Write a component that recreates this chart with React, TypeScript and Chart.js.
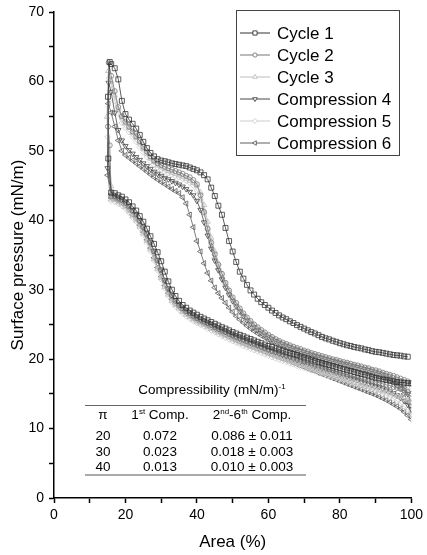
import React, { useEffect, useRef } from 'react';
import { Chart, registerables } from 'chart.js';
import { drawPoint } from 'chart.js/helpers';

Chart.register(...registerables);

const FONT = '"Liberation Sans", Arial, Helvetica, sans-serif';

// Area grid (%), compression direction: 100 -> 16
const areaGrid = [
  100, 99, 98, 97, 96, 95, 94, 93, 92, 91,
  90, 89, 88, 87, 86, 85, 84, 83, 82, 81,
  80, 79, 78, 77, 76, 75, 74, 73, 72, 71,
  70, 69, 68, 67, 66, 65, 64, 63, 62, 61,
  60, 59, 58, 57, 56, 55, 54, 53, 52, 51,
  50, 49, 48, 47, 46, 45, 44, 43, 42, 41,
  40, 39, 38, 37, 36, 35, 34, 33, 32, 31,
  30, 29, 28, 27, 26, 25, 24, 23, 22, 21,
  20, 19, 18, 17, 16,
];

// Compression branches (mN/m) along areaGrid (100 -> 16)
const cycle1Comp = [
  null, 20.35, 20.4, 20.5, 20.55, 20.6, 20.7, 20.8, 20.9, 21.0,
  21.05, 21.15, 21.3, 21.4, 21.55, 21.65, 21.75, 21.9, 22.0, 22.15,
  22.3, 22.5, 22.65, 22.85, 23.0, 23.2, 23.45, 23.7, 23.9, 24.15,
  24.4, 24.65, 24.9, 25.2, 25.45, 25.75, 26.0, 26.3, 26.65, 27.0,
  27.4, 27.8, 28.2, 28.7, 29.3, 29.9, 30.7, 31.6, 32.6, 34.0,
  35.5, 37.0, 38.9, 40.8, 42.1, 43.5, 44.7, 45.9, 46.5, 46.9,
  47.2, 47.4, 47.6, 47.8, 47.9, 48.0, 48.1, 48.2, 48.35, 48.5,
  48.6, 48.8, 49.2, 49.7, 50.4, 51.3, 52.3, 53.2, 53.9, 54.5,
  55.3, 57.2, 60.3, 61.9, 62.5,
];
const cycle2Comp = [
  16.5, 16.8, 17.0, 17.2, 17.4, 17.6, 17.75, 17.9, 18.05, 18.25,
  18.4, 18.5, 18.7, 18.8, 18.95, 19.1, 19.2, 19.35, 19.5, 19.6,
  19.75, 19.9, 20.0, 20.15, 20.3, 20.45, 20.6, 20.75, 20.9, 21.1,
  21.25, 21.45, 21.6, 21.8, 22.0, 22.2, 22.4, 22.65, 22.9, 23.2,
  23.5, 23.85, 24.2, 24.6, 25.0, 25.5, 26.0, 26.6, 27.3, 28.1,
  28.9, 29.9, 31.0, 32.3, 33.6, 35.1, 36.8, 38.8, 41.2, 43.6,
  45.2, 45.8, 46.2, 46.4, 46.7, 46.9, 47.1, 47.3, 47.5, 47.7,
  47.95, 48.2, 48.6, 49.2, 49.9, 50.6, 51.4, 52.1, 52.8, 53.5,
  54.2, 55.0, 56.3, 58.6, 60.8,
];
const cycle3Comp = [
  15.0, 15.9, 16.4, 16.8, 17.05, 17.3, 17.5, 17.65, 17.85, 18.05,
  18.2, 18.35, 18.5, 18.6, 18.75, 18.9, 19.0, 19.15, 19.3, 19.4,
  19.55, 19.7, 19.8, 19.95, 20.1, 20.25, 20.4, 20.55, 20.7, 20.9,
  21.05, 21.25, 21.4, 21.6, 21.8, 22.0, 22.2, 22.45, 22.7, 23.0,
  23.3, 23.65, 24.0, 24.4, 24.8, 25.3, 25.8, 26.4, 27.1, 27.9,
  28.7, 29.8, 30.9, 32.3, 33.8, 35.5, 37.5, 39.8, 42.2, 44.0,
  45.0, 45.4, 45.7, 46.0, 46.3, 46.5, 46.7, 46.9, 47.1, 47.4,
  47.65, 47.9, 48.4, 48.9, 49.6, 50.3, 51.1, 51.9, 52.6, 53.3,
  54.0, 54.8, 56.0, 58.0, 60.0,
];
const comp4Comp = [
  13.8, 15.0, 15.8, 16.4, 16.75, 17.05, 17.3, 17.5, 17.7, 17.9,
  18.05, 18.2, 18.4, 18.5, 18.65, 18.8, 18.9, 19.05, 19.2, 19.3,
  19.45, 19.6, 19.7, 19.85, 20.0, 20.15, 20.3, 20.45, 20.6, 20.8,
  20.95, 21.15, 21.3, 21.5, 21.7, 21.9, 22.1, 22.35, 22.6, 22.85,
  23.15, 23.45, 23.8, 24.2, 24.6, 25.1, 25.6, 26.2, 26.9, 27.6,
  28.4, 29.3, 30.3, 31.5, 32.8, 34.2, 35.9, 37.8, 39.7, 41.5,
  42.8, 43.6, 44.1, 44.5, 44.85, 45.15, 45.4, 45.65, 45.9, 46.1,
  46.4, 46.7, 47.0, 47.4, 47.8, 48.2, 48.7, 49.1, 49.6, 50.1,
  50.7, 51.5, 53.0, 55.5, 58.5,
];
const comp5Comp = [
  12.8, 14.6, 15.5, 16.1, 16.5, 16.85, 17.1, 17.35, 17.55, 17.75,
  17.9, 18.05, 18.25, 18.35, 18.5, 18.65, 18.8, 18.95, 19.1, 19.2,
  19.35, 19.5, 19.6, 19.75, 19.9, 20.05, 20.2, 20.35, 20.5, 20.7,
  20.85, 21.05, 21.2, 21.4, 21.6, 21.8, 22.0, 22.25, 22.5, 22.8,
  23.1, 23.45, 23.8, 24.2, 24.6, 25.0, 25.5, 26.1, 26.8, 27.5,
  28.3, 29.3, 30.4, 31.7, 33.0, 34.6, 36.3, 38.6, 41.0, 43.0,
  44.3, 45.0, 45.4, 45.7, 46.0, 46.2, 46.4, 46.6, 46.8, 47.0,
  47.3, 47.6, 48.0, 48.5, 49.1, 49.8, 50.5, 51.3, 52.0, 52.7,
  53.3, 54.0, 55.3, 57.2, 59.5,
];
const comp6Comp = [
  12.0, 13.8, 15.0, 15.7, 16.2, 16.6, 16.9, 17.15, 17.35, 17.55,
  17.7, 17.85, 18.05, 18.2, 18.35, 18.5, 18.6, 18.75, 18.9, 19.05,
  19.15, 19.3, 19.45, 19.6, 19.7, 19.85, 20.0, 20.15, 20.3, 20.5,
  20.65, 20.8, 21.0, 21.2, 21.4, 21.6, 21.8, 22.0, 22.25, 22.5,
  22.8, 23.1, 23.4, 23.7, 24.05, 24.4, 24.8, 25.25, 25.7, 26.2,
  26.8, 27.4, 28.1, 28.8, 29.5, 30.3, 31.3, 32.4, 33.8, 35.5,
  37.0, 39.0, 40.8, 42.4, 43.3, 43.9, 44.2, 44.5, 44.85, 45.2,
  45.5, 45.85, 46.2, 46.6, 47.0, 47.4, 47.8, 48.2, 48.6, 49.0,
  49.4, 50.0, 51.5, 53.5, 55.5,
];

// Collapse: near-vertical drop at minimum area
const cycle1DropX = [15.6, 15.1, 15.2];
const cycle1DropY = [62.8, 57.8, 48.9];
const cycle2DropX = [15.3, 15.1, 15.6];
const cycle2DropY = [62.7, 53.5, 50.8];
const cycle3DropX = [15.2, 14.8, 16.0];
const cycle3DropY = [61.5, 54.9, 44.9];
const comp4DropX = [15.3, 15.0];
const comp4DropY = [59.8, 47.5];
const comp5DropX = [15.4, 15.0];
const comp5DropY = [60.5, 52.0];
const comp6DropX = [15.2, 15.0];
const comp6DropY = [56.8, 46.5];

// Expansion branches (mN/m) along areaGrid reversed (16 -> 100)
const cycle1Exp = [
  44.0, 43.9, 43.6, 43.4, 43.0, 42.6, 42.0, 41.4, 40.6, 39.8,
  38.8, 37.7, 36.6, 35.4, 34.1, 32.6, 31.2, 30.0, 29.1, 28.4,
  27.8, 27.4, 27.0, 26.7, 26.4, 26.1, 25.85, 25.6, 25.35, 25.1,
  24.85, 24.6, 24.4, 24.15, 23.9, 23.7, 23.5, 23.3, 23.1, 22.9,
  22.7, 22.5, 22.3, 22.1, 21.9, 21.75, 21.55, 21.4, 21.25, 21.05,
  20.9, 20.75, 20.6, 20.4, 20.25, 20.1, 19.95, 19.8, 19.6, 19.45,
  19.3, 19.15, 19.0, 18.85, 18.7, 18.55, 18.4, 18.3, 18.15, 18.0,
  17.85, 17.75, 17.6, 17.45, 17.3, 17.2, 17.1, 17.0, 16.9, 16.8,
  16.7, 16.65, 16.6, 16.55, 16.5,
];
const cycle2Exp = [
  43.5, 43.4, 43.1, 42.9, 42.5, 42.0, 41.4, 40.8, 39.9, 39.0,
  38.0, 36.8, 35.5, 34.2, 32.8, 31.3, 30.1, 29.1, 28.4, 27.8,
  27.3, 26.9, 26.6, 26.2, 25.9, 25.65, 25.4, 25.15, 24.9, 24.6,
  24.35, 24.1, 23.9, 23.65, 23.4, 23.2, 23.0, 22.8, 22.6, 22.4,
  22.2, 22.0, 21.8, 21.6, 21.4, 21.2, 21.05, 20.9, 20.7, 20.55,
  20.4, 20.2, 20.05, 19.9, 19.7, 19.55, 19.4, 19.2, 19.05, 18.9,
  18.7, 18.55, 18.4, 18.2, 18.05, 17.9, 17.8, 17.65, 17.5, 17.4,
  17.25, 17.1, 17.0, 16.85, 16.7, 16.6, 16.45, 16.3, 16.2, 16.0,
  15.85, 15.7, 15.5, 15.25, 15.0,
];
const cycle3Exp = [
  43.0, 42.9, 42.6, 42.3, 41.9, 41.3, 40.6, 40.0, 39.1, 38.1,
  37.0, 35.8, 34.4, 33.0, 31.7, 30.4, 29.3, 28.4, 27.8, 27.3,
  26.8, 26.4, 26.05, 25.7, 25.4, 25.15, 24.9, 24.6, 24.35, 24.1,
  23.8, 23.55, 23.35, 23.1, 22.85, 22.6, 22.4, 22.2, 22.0, 21.8,
  21.6, 21.4, 21.2, 21.0, 20.8, 20.6, 20.45, 20.3, 20.1, 19.95,
  19.8, 19.6, 19.45, 19.3, 19.1, 18.95, 18.8, 18.6, 18.45, 18.3,
  18.1, 17.95, 17.8, 17.6, 17.45, 17.3, 17.1, 16.95, 16.8, 16.6,
  16.45, 16.3, 16.1, 15.95, 15.8, 15.6, 15.45, 15.3, 15.1, 14.9,
  14.7, 14.5, 14.3, 14.05, 13.8,
];
const comp4Exp = [
  43.6, 43.5, 43.2, 43.0, 42.6, 42.1, 41.5, 40.9, 40.0, 39.1,
  38.1, 36.9, 35.6, 34.3, 32.9, 31.4, 30.2, 29.2, 28.5, 27.9,
  27.4, 27.0, 26.7, 26.3, 26.0, 25.7, 25.45, 25.2, 24.95, 24.7,
  24.4, 24.15, 23.95, 23.7, 23.45, 23.2, 23.0, 22.8, 22.6, 22.4,
  22.2, 22.0, 21.8, 21.6, 21.4, 21.2, 21.0, 20.8, 20.6, 20.4,
  20.2, 20.0, 19.85, 19.65, 19.5, 19.3, 19.15, 19.0, 18.8, 18.65,
  18.5, 18.3, 18.15, 18.0, 17.8, 17.65, 17.5, 17.3, 17.15, 17.0,
  16.8, 16.65, 16.5, 16.3, 16.15, 16.0, 15.8, 15.6, 15.35, 15.1,
  14.8, 14.45, 14.0, 13.45, 12.8,
];
const comp5Exp = [
  42.8, 42.7, 42.4, 42.1, 41.7, 41.1, 40.4, 39.8, 38.9, 37.9,
  36.8, 35.6, 34.2, 32.8, 31.5, 30.2, 29.1, 28.2, 27.6, 27.1,
  26.6, 26.2, 25.85, 25.5, 25.2, 24.95, 24.7, 24.4, 24.15, 23.9,
  23.6, 23.3, 23.1, 22.85, 22.6, 22.35, 22.15, 21.9, 21.7, 21.5,
  21.3, 21.1, 20.9, 20.7, 20.5, 20.3, 20.1, 19.95, 19.75, 19.6,
  19.4, 19.25, 19.05, 18.9, 18.75, 18.55, 18.4, 18.25, 18.05, 17.9,
  17.75, 17.55, 17.4, 17.25, 17.05, 16.9, 16.75, 16.55, 16.4, 16.25,
  16.05, 15.9, 15.75, 15.55, 15.4, 15.2, 15.0, 14.8, 14.55, 14.3,
  14.0, 13.65, 13.2, 12.65, 12.0,
];
const comp6Exp = [
  43.2, 43.1, 42.8, 42.5, 42.1, 41.5, 40.8, 40.2, 39.3, 38.3,
  37.2, 36.0, 34.6, 33.2, 31.9, 30.6, 29.5, 28.6, 28.0, 27.5,
  27.0, 26.6, 26.25, 25.9, 25.6, 25.35, 25.1, 24.8, 24.55, 24.3,
  24.0, 23.75, 23.5, 23.25, 23.0, 22.75, 22.5, 22.3, 22.1, 21.9,
  21.7, 21.5, 21.3, 21.1, 20.85, 20.65, 20.45, 20.25, 20.05, 19.85,
  19.65, 19.45, 19.25, 19.05, 18.85, 18.65, 18.45, 18.25, 18.05, 17.85,
  17.65, 17.45, 17.25, 17.05, 16.85, 16.65, 16.45, 16.25, 16.05, 15.85,
  15.65, 15.45, 15.25, 15.05, 14.85, 14.6, 14.35, 14.1, 13.8, 13.5,
  13.2, 12.85, 12.4, 11.9, 11.3,
];

const seriesLabels = ['Cycle 1', 'Cycle 2', 'Cycle 3', 'Compression 4', 'Compression 5', 'Compression 6'];

// Inset table
const tablePi = ['20', '30', '40'];
const tableFirst = ['0.072', '0.023', '0.013'];
const tableRest = ['0.086 \u00b1 0.011', '0.018 \u00b1 0.003', '0.010 \u00b1 0.003'];

const seriesDefs = [
  { comp: cycle1Comp, dx: cycle1DropX, dy: cycle1DropY, exp: cycle1Exp, color: '#333333', style: 'rect', rot: 0, r: 3.5 },
  { comp: cycle2Comp, dx: cycle2DropX, dy: cycle2DropY, exp: cycle2Exp, color: '#777777', style: 'circle', rot: 0, r: 2.5 },
  { comp: cycle3Comp, dx: cycle3DropX, dy: cycle3DropY, exp: cycle3Exp, color: '#bdbdbd', style: 'triangle', rot: 0, r: 3.1 },
  { comp: comp4Comp, dx: comp4DropX, dy: comp4DropY, exp: comp4Exp, color: '#474747', style: 'triangle', rot: 180, r: 3.1 },
  { comp: comp5Comp, dx: comp5DropX, dy: comp5DropY, exp: comp5Exp, color: '#cccccc', style: 'rectRot', rot: 0, r: 2.9 },
  { comp: comp6Comp, dx: comp6DropX, dy: comp6DropY, exp: comp6Exp, color: '#5e5e5e', style: 'triangle', rot: 270, r: 3.1 },
];

function buildPoints(s: any) {
  const pts: { x: number; y: number }[] = [];
  const n1 = Math.min(areaGrid.length, s.comp.length);
  for (let i = 0; i < n1; i++) {
    if (s.comp[i] != null) pts.push({ x: areaGrid[i], y: s.comp[i] });
  }
  for (let i = 0; i < s.dx.length; i++) pts.push({ x: s.dx[i], y: s.dy[i] });
  const asc = areaGrid.slice().reverse();
  const n2 = Math.min(asc.length, s.exp.length);
  for (let i = 0; i < n2; i++) {
    if (s.exp[i] != null) pts.push({ x: asc[i], y: s.exp[i] });
  }
  return pts;
}

const legendPlugin = {
  id: 'boxLegend',
  afterDraw(chart: any) {
    const ctx = chart.ctx;
    ctx.save();
    ctx.strokeStyle = '#444';
    ctx.lineWidth = 1;
    ctx.strokeRect(236.5, 10.5, 163, 145);
    const ds = chart.data.datasets;
    for (let i = 0; i < ds.length; i++) {
      const y = 33 + i * 22;
      const d = ds[i];
      ctx.strokeStyle = d.borderColor;
      ctx.lineWidth = 1;
      ctx.beginPath();
      ctx.moveTo(240, y);
      ctx.lineTo(270, y);
      ctx.stroke();
      ctx.fillStyle = '#ffffff';
      ctx.strokeStyle = d.pointBorderColor;
      ctx.lineWidth = 0.9;
      drawPoint(ctx, { pointStyle: d.pointStyle, rotation: d.pointRotation, radius: d.pointRadius * 0.85, borderWidth: 0.9 } as any, 255, y);
      ctx.fillStyle = '#000';
      ctx.font = `17px ${FONT}`;
      ctx.textBaseline = 'middle';
      ctx.textAlign = 'left';
      ctx.fillText(d.label, 277, y + 1);
    }
    ctx.restore();
  },
};

export default function App() {
  const ref = useRef<HTMLCanvasElement | null>(null);
  useEffect(() => {
    if (!ref.current) return;
    const datasets = seriesDefs.map((s, i) => ({
      label: seriesLabels[i],
      data: buildPoints(s),
      showLine: true,
      borderColor: s.color,
      borderWidth: 0.8,
      pointStyle: s.style,
      pointRotation: s.rot,
      pointRadius: s.r,
      pointBorderWidth: 0.8,
      pointBorderColor: s.color,
      pointBackgroundColor: 'rgba(255,255,255,0)',
      tension: 0,
    }));
    const chart = new Chart(ref.current, {
      type: 'scatter',
      data: { datasets } as any,
      options: {
        animation: false,
        responsive: false,
        maintainAspectRatio: false,
        layout: { padding: { top: 7, right: 13, left: 0, bottom: 0 } },
        plugins: { legend: { display: false }, tooltip: { enabled: false } },
        scales: {
          x: {
            type: 'linear',
            min: 0,
            max: 100,
            afterFit: (s: any) => { s.height = 57; },
            ticks: {
              stepSize: 10,
              autoSkip: false,
              maxRotation: 0,
              padding: 4,
              color: '#000',
              font: { size: 14, family: FONT },
              callback: (v: any) => (Number(v) % 20 === 0 ? String(v) : ''),
            },
            grid: { drawOnChartArea: false, drawTicks: true, tickLength: 5, tickColor: '#000', tickWidth: 1.5 },
            border: { display: true, color: '#000', width: 1.5 },
            title: { display: true, text: 'Area (%)', color: '#000', font: { size: 17, family: FONT }, padding: { top: 2, bottom: 2 } },
          },
          y: {
            type: 'linear',
            min: 0,
            max: 70,
            afterFit: (s: any) => { s.width = 54; },
            ticks: {
              stepSize: 5,
              autoSkip: false,
              padding: 5,
              color: '#000',
              font: { size: 14, family: FONT, lineHeight: 1 },
              callback: (v: any) => (Number(v) % 10 === 0 ? String(v) : ''),
            },
            grid: { drawOnChartArea: false, drawTicks: true, tickLength: 5, tickColor: '#000', tickWidth: 1.5 },
            border: { display: true, color: '#000', width: 1.5 },
            title: { display: true, text: 'Surface pressure (mN/m)', color: '#000', font: { size: 17, family: FONT }, padding: { top: 8, bottom: 0 } },
          },
        },
      } as any,
      plugins: [legendPlugin],
    });
    return () => chart.destroy();
  }, []);

  const txt = (content: any, cx: number, cy: number, key: string) => (
    <div
      key={key}
      style={{
        position: 'absolute',
        left: cx,
        top: cy,
        transform: 'translate(-50%, -50%)',
        whiteSpace: 'nowrap',
        font: `13.5px ${FONT}`,
        lineHeight: '16px',
        color: '#000',
      }}
    >
      {content}
    </div>
  );
  const sup = (t: string) => (
    <span style={{ fontSize: 8, position: 'relative', top: -5, lineHeight: 0 }}>{t}</span>
  );
  const rowY = [436, 451.5, 467];

  return (
    <div style={{ position: 'fixed', left: 0, top: 0, width: 427, height: 555, background: '#fff', overflow: 'hidden' }}>
      <canvas ref={ref} width={427} height={555} style={{ display: 'block' }} />
      {txt(<span>Compressibility (mN/m){sup('-1')}</span>, 212, 390, 'title')}
      <div style={{ position: 'absolute', left: 85, top: 405, width: 221, height: 1, background: '#666' }} />
      {txt('\u03c0', 103, 415, 'hpi')}
      {txt(<span>1{sup('st')} Comp.</span>, 160, 415, 'h1')}
      {txt(<span>2{sup('nd')}-6{sup('th')} Comp.</span>, 252, 415, 'h2')}
      {tablePi.map((p, i) => txt(p, 103, rowY[i], 'p' + i))}
      {tableFirst.map((p, i) => txt(p, 160, rowY[i], 'f' + i))}
      {tableRest.map((p, i) => txt(p, 252, rowY[i], 'r' + i))}
      <div style={{ position: 'absolute', left: 85, top: 474, width: 221, height: 2, background: '#aaa' }} />
    </div>
  );
}
